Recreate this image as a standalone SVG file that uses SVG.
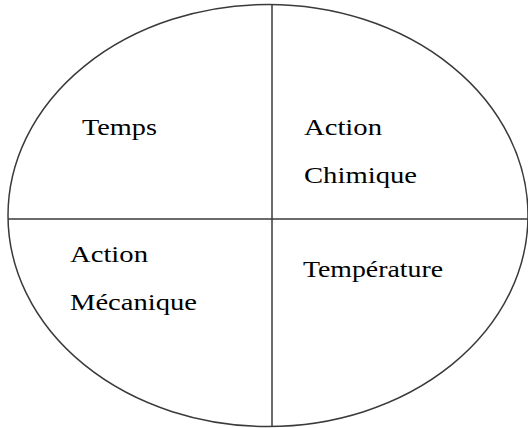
<svg xmlns="http://www.w3.org/2000/svg" width="528" height="428" viewBox="0 0 528 428">
<style>
.ln{fill:none;stroke:#3a3a3a;stroke-width:1.5}
.t{font-family:"Liberation Serif","Times New Roman",serif;font-size:24px;fill:#000}
</style>
<rect width="528" height="428" fill="#fff"/>
<g id="connectors">
<ellipse class="ln" cx="268" cy="215.5" rx="260" ry="211"/>
<line class="ln" x1="272" y1="4" x2="272" y2="427"/>
<line class="ln" x1="8" y1="219" x2="528" y2="219"/>
</g>
<g id="temps"><text class="t" x="82" y="135" textLength="75" lengthAdjust="spacingAndGlyphs">Temps</text></g>
<g id="chimique"><text class="t" x="304" y="135" textLength="78" lengthAdjust="spacingAndGlyphs">Action</text><text class="t" x="304" y="183" textLength="113" lengthAdjust="spacingAndGlyphs">Chimique</text></g>
<g id="mecanique"><text class="t" x="70" y="262" textLength="78" lengthAdjust="spacingAndGlyphs">Action</text><text class="t" x="70" y="310" textLength="127" lengthAdjust="spacingAndGlyphs">Mécanique</text></g>
<g id="temperature"><text class="t" x="303" y="277" textLength="140" lengthAdjust="spacingAndGlyphs">Température</text></g>
</svg>
